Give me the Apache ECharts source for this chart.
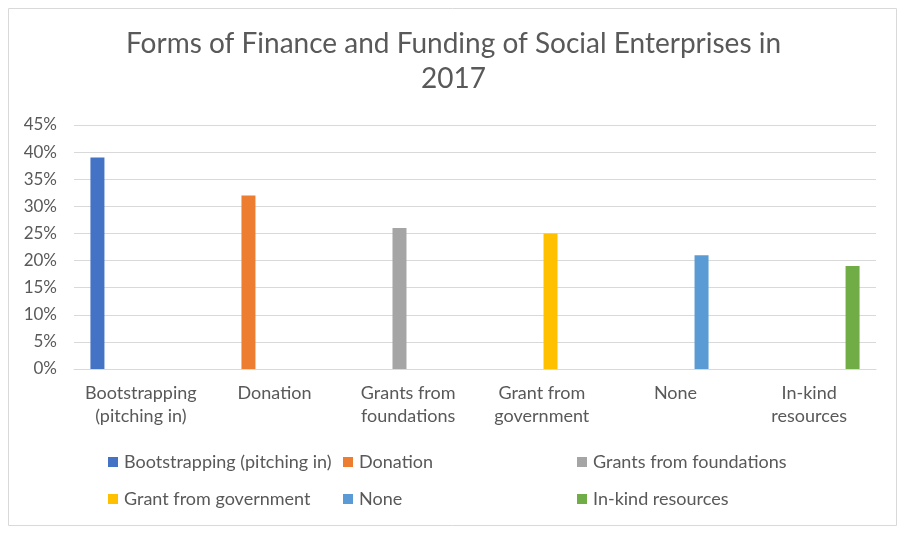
<!DOCTYPE html>
<html>
<head>
<meta charset="utf-8">
<script src="https://cdn.jsdelivr.net/npm/echarts@6/dist/echarts.min.js"></script>
<style>
html,body{margin:0;padding:0;background:#fff;}
#chart{width:907px;height:535px;}
</style>
</head>
<body>
<div id="chart"></div>
<script>
// Data
var categories = ["Bootstrapping (pitching in)", "Donation", "Grants from foundations", "Grant from government", "None", "In-kind resources"];
var axisLabels = ["Bootstrapping\n(pitching in)", "Donation", "Grants from\nfoundations", "Grant from\ngovernment", "None", "In-kind\nresources"];
var values = [0.39, 0.32, 0.26, 0.25, 0.21, 0.19];
var colors = ["#4472C4", "#ED7D31", "#A5A5A5", "#FFC000", "#5B9BD5", "#70AD47"];
var yTicks = { min: 0, max: 0.45, interval: 0.05 };

var FONT = "Lato, 'Open Sans', sans-serif";
var TXT = "#595959";

var series = categories.map(function (name, i) {
  return {
    name: name,
    type: 'bar',
    barWidth: 14,
    barGap: '24%',
    itemStyle: { color: colors[i] },
    data: categories.map(function (c, j) { return j === i ? values[i] : '-'; })
  };
});

var legendPos = [
  [108, 453], [343, 453], [577, 453],
  [108, 490], [343, 490], [577, 490]
];
var legends = categories.map(function (name, i) {
  return {
    data: [name],
    left: legendPos[i][0],
    top: legendPos[i][1],
    padding: 0,
    icon: 'rect',
    itemWidth: 10,
    itemHeight: 10,
    itemGap: 0,
    selectedMode: false,
    textStyle: { color: TXT, fontSize: 18, fontFamily: FONT, padding: [0, 0, 0, 1] }
  };
});

var chart = echarts.init(document.getElementById('chart'), null, { renderer: 'canvas' });
chart.setOption({
  animation: false,
  backgroundColor: '#fff',
  color: colors,
  title: {
    text: 'Forms of Finance and Funding of Social Enterprises in\n2017',
    left: 'center',
    top: 21,
    textStyle: { color: TXT, fontSize: 28, fontWeight: 'normal', fontFamily: FONT, lineHeight: 35 }
  },
  graphic: [{
    type: 'rect',
    shape: { x: 8.5, y: 8.5, width: 888, height: 517 },
    style: { fill: 'none', stroke: '#d9d9d9', lineWidth: 1 },
    silent: true, z: -1
  }],
  legend: legends,
  grid: { left: 74, right: 31, top: 125, bottom: 166, containLabel: false },
  xAxis: {
    type: 'category',
    data: categories,
    axisLine: { lineStyle: { color: '#d9d9d9' } },
    axisTick: { show: false },
    axisLabel: {
      interval: 0,
      color: TXT, fontSize: 18, fontFamily: FONT, lineHeight: 23, margin: 13,
      formatter: function (v, idx) { return axisLabels[idx]; }
    }
  },
  yAxis: {
    type: 'value',
    min: yTicks.min, max: yTicks.max, interval: yTicks.interval,
    axisLine: { show: false },
    axisTick: { show: false },
    splitLine: { lineStyle: { color: '#d9d9d9', width: 1 } },
    axisLabel: {
      color: TXT, fontSize: 17, fontFamily: FONT, margin: 17,
      formatter: function (v) { return Math.round(v * 100) + '%'; }
    }
  },
  series: series
});
</script>
</body>
</html>
